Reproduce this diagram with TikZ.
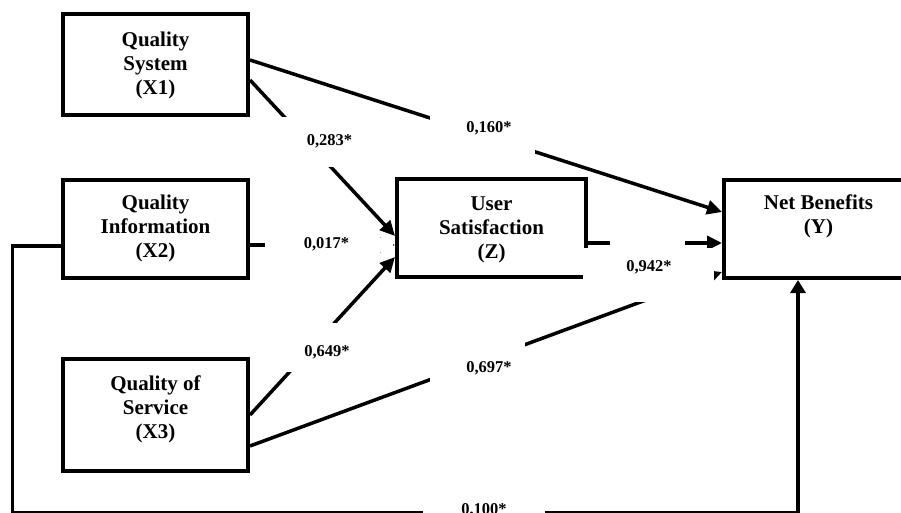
\documentclass[tikz,border=0pt]{standalone}
\usepackage{fontspec}
\setmainfont{Liberation Serif}
\usetikzlibrary{arrows.meta}
\begin{document}
\begin{tikzpicture}[x=1pt,y=-1pt,
  varbox/.style={draw=black, line width=4pt, inner sep=0pt},
  boxtext/.style={font=\bfseries\fontsize{21}{24}\selectfont, align=center, inner sep=0pt, anchor=base},
  lbl/.style={font=\bfseries\fontsize{16.5}{19}\selectfont, inner sep=0pt, anchor=base},
  mask/.style={fill=white, draw=none, inner sep=0pt},
  conn/.style={line width=3.5pt, -{Triangle[length=15pt,width=14pt]}},
  loopline/.style={line width=3.2pt, -{Triangle[length=13pt,width=15pt]}}]
\useasboundingbox (0,0) rectangle (901,513);

% boxes
\node[varbox, minimum width=185pt, minimum height=101pt] (X1) at (155.5,64.5) {};
\node[varbox, minimum width=185pt, minimum height=98pt] (X2) at (155.5,228.5) {};
\node[varbox, minimum width=185pt, minimum height=112pt] (X3) at (155.5,415) {};
\node[varbox, minimum width=189pt, minimum height=98pt] (Z) at (491.5,228) {};
\node[varbox, minimum width=189pt, minimum height=98.5pt] (Y) at (818.5,228.75) {};

% loop corners
\coordinate (c1) at (12.5,246);
\coordinate (c2) at (12.5,513);
\coordinate (c3) at (798,513);

% first layer of connectors
\draw[conn] ([yshift=-16.5pt]X2.east) -- ([yshift=-17pt]Z.west);
\draw[loopline] ([yshift=-17.5pt]X2.west) -- (c1) -- (c2) -- (c3) -- (c3 |- Y.south);
\draw[conn] ([yshift=4.5pt]X1.east) -- ([yshift=16.75pt]Y.west);
\draw[conn] ([yshift=-15pt]Z.east) -- ([yshift=-14.25pt]Y.west);
\draw[conn] ([yshift=-31pt]X3.east) -- ([yshift=-43.25pt]Y.west);

% label backgrounds
\node[mask, minimum width=128pt, minimum height=14pt] (m017) at (329,245) {};
\node[mask, minimum width=105pt, minimum height=45pt] (m160) at (482.5,132) {};
\node[mask, minimum width=131pt, minimum height=54pt] (m942a) at (648.5,275) {};
\node[mask, minimum width=75pt, minimum height=12pt] (m942b) at (647.5,243) {};
\node[mask, minimum width=95pt, minimum height=56pt] (m697) at (477.5,366) {};
\node[mask, minimum width=122pt, minimum height=25pt] (m100) at (484,507.5) {};

% second layer of connectors
\draw[conn] ([yshift=-15.5pt]X1.east) -- ([yshift=-8pt]Z.west);
\draw[conn] (X3.east) -- ([yshift=-29pt]Z.west);

\node[mask, minimum width=100pt, minimum height=50pt] (m283) at (330,142) {};
\node[mask, minimum width=98pt, minimum height=49pt] (m649) at (331,347.5) {};

% labels
\node[lbl] (l283) at (329.5,145.5) {0,283*};
\node[lbl] (l160) at (489,133) {0,160*};
\node[lbl] (l017) at (326.5,248) {0,017*};
\node[lbl] (l942) at (649,271) {0,942*};
\node[lbl] (l649) at (327,356.5) {0,649*};
\node[lbl] (l697) at (489,372.5) {0,697*};
\node[lbl] (l100) at (484,514) {0,100*};

% box texts (anchor base = last line)
\node[boxtext] (X1t) at (155.5,95) {Quality\\System\\(X1)};
\node[boxtext] (X2t) at (155.5,257) {Quality\\Information\\(X2)};
\node[boxtext] (X3t) at (155.5,438) {Quality of\\Service\\(X3)};
\node[boxtext] (Zt) at (491.5,258) {User\\Satisfaction\\(Z)};
\node[boxtext] (Yt) at (818.5,233) {Net Benefits\\(Y)};
\end{tikzpicture}
\end{document}
